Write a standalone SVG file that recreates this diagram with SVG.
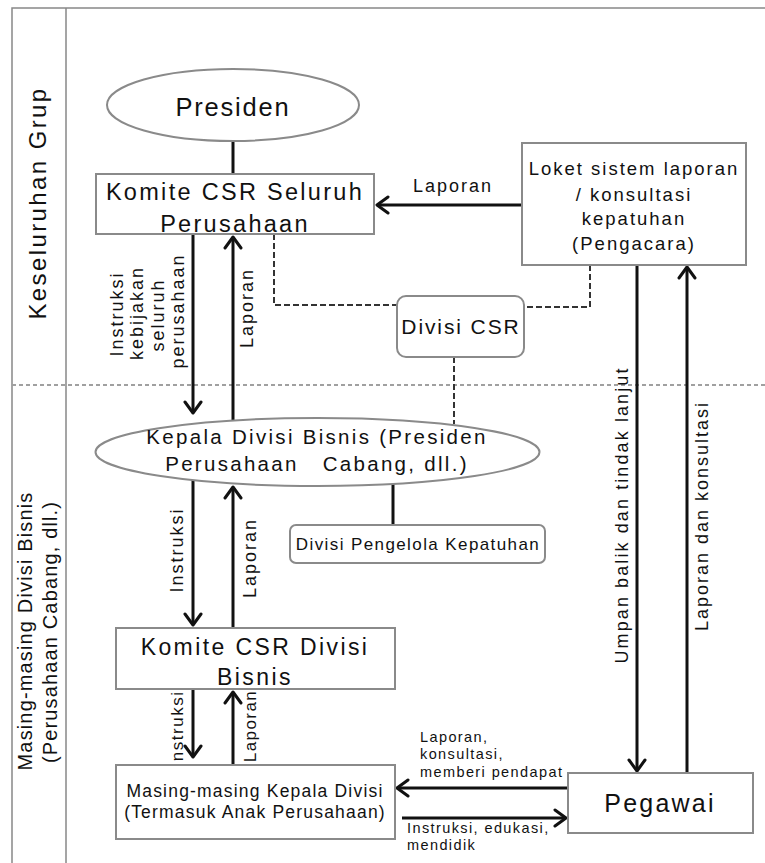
<svg xmlns="http://www.w3.org/2000/svg" width="765" height="863" viewBox="0 0 765 863">
<style>
.t{font-family:"Liberation Sans",Arial,sans-serif;fill:#111}
.box{fill:#fff;stroke:#8a8a8a;stroke-width:2}
.ln{stroke:#111;stroke-width:3;fill:none}
.dash{stroke:#333;stroke-width:2;stroke-dasharray:6 3;fill:none}
.frame{stroke:#888;stroke-width:1.5;fill:none}
.sep{stroke:#a0a0a0;stroke-width:2;stroke-dasharray:4 3;fill:none}
</style>
<defs>
<marker id="ah" viewBox="-14 -10 16 20" refX="0" refY="0" markerWidth="16" markerHeight="20" markerUnits="userSpaceOnUse" orient="auto">
<path d="M-11,-8 L0,0 L-11,8" fill="none" stroke="#111" stroke-width="3" stroke-linejoin="round" stroke-linecap="round"/>
</marker>
</defs>
<rect width="765" height="863" fill="#fff"/>
<g id="frame">
<path class="frame" d="M12,863 V8 H765 M66,8 V863"/>
<path class="sep" d="M12,385 H765"/>
<text class="t" font-size="24" letter-spacing="2.4" text-anchor="middle" transform="translate(46,203) rotate(-90)">Keseluruhan Grup</text>
<text class="t" font-size="20" letter-spacing="1.15" text-anchor="middle" transform="translate(32,631) rotate(-90)">Masing-masing Divisi Bisnis</text>
<text class="t" font-size="20" letter-spacing="1.15" text-anchor="middle" transform="translate(57,632) rotate(-90)">(Perusahaan Cabang, dll.)</text>
</g>
<g id="connectors">
<path class="ln" d="M233,140 V174"/>
<path class="ln" d="M522,205 H377" marker-end="url(#ah)"/>
<path class="dash" d="M274,234 V305 H397"/>
<path class="dash" d="M590,265 V307 H524"/>
<path class="dash" d="M454,357 V424"/>
<path class="ln" d="M193,234 V413" marker-end="url(#ah)"/>
<path class="ln" d="M233,421 V237" marker-end="url(#ah)"/>
<path class="ln" d="M393,484 V525"/>
<path class="ln" d="M193,480 V625" marker-end="url(#ah)"/>
<path class="ln" d="M233,628 V487" marker-end="url(#ah)"/>
<path class="ln" d="M193,689 V757" marker-end="url(#ah)"/>
<path class="ln" d="M233,765 V692" marker-end="url(#ah)"/>
<path class="ln" d="M637,265 V771" marker-end="url(#ah)"/>
<path class="ln" d="M687,773 V267" marker-end="url(#ah)"/>
<path class="ln" d="M568,788 H397" marker-end="url(#ah)"/>
<path class="ln" d="M402,818 H566" marker-end="url(#ah)"/>
<text class="t" font-size="18" letter-spacing="2" text-anchor="middle" x="453" y="192">Laporan</text>
<text class="t" font-size="18" letter-spacing="2" text-anchor="middle" transform="translate(123,314) rotate(-90)">Instruksi</text>
<text class="t" font-size="18" letter-spacing="2" text-anchor="middle" transform="translate(143,313) rotate(-90)">kebijakan</text>
<text class="t" font-size="18" letter-spacing="2" text-anchor="middle" transform="translate(164,315) rotate(-90)">seluruh</text>
<text class="t" font-size="18" letter-spacing="2" text-anchor="middle" transform="translate(184,311) rotate(-90)">perusahaan</text>
<text class="t" font-size="18" letter-spacing="2" text-anchor="middle" transform="translate(253,308) rotate(-90)">Laporan</text>
<text class="t" font-size="18" letter-spacing="2" text-anchor="middle" transform="translate(183,550) rotate(-90)">Instruksi</text>
<text class="t" font-size="18" letter-spacing="2" text-anchor="middle" transform="translate(256,558) rotate(-90)">Laporan</text>
<text class="t" font-size="17" letter-spacing="1.5" text-anchor="middle" transform="translate(183,729) rotate(-90)">Instruksi</text>
<text class="t" font-size="17" letter-spacing="1.45" text-anchor="middle" transform="translate(256,726) rotate(-90)">Laporan</text>
<text class="t" font-size="18" letter-spacing="2.1" text-anchor="middle" transform="translate(628,515) rotate(-90)">Umpan balik dan tindak lanjut</text>
<text class="t" font-size="18" letter-spacing="2" text-anchor="middle" transform="translate(708,516) rotate(-90)">Laporan dan konsultasi</text>
<text class="t" font-size="14.5" letter-spacing="1.4" x="420" y="742">Laporan,</text>
<text class="t" font-size="14.5" letter-spacing="1.4" x="420" y="759">konsultasi,</text>
<text class="t" font-size="14.5" letter-spacing="1.4" x="420" y="777">memberi pendapat</text>
<text class="t" font-size="14.5" letter-spacing="1.4" x="407" y="833">Instruksi, edukasi,</text>
<text class="t" font-size="14.5" letter-spacing="1.4" x="407" y="850">mendidik</text>
</g>
<g id="presiden">
<ellipse class="box" cx="233" cy="105" rx="126" ry="36"/>
<text class="t" font-size="25.5" letter-spacing="1.8" text-anchor="middle" x="233" y="116">Presiden</text>
</g>
<g id="komite-seluruh">
<rect class="box" x="96" y="174" width="278" height="60"/>
<text class="t" font-size="23.5" letter-spacing="2.3" text-anchor="middle" x="235" y="200">Komite CSR Seluruh</text>
<text class="t" font-size="23.5" letter-spacing="2.3" text-anchor="middle" x="235" y="232">Perusahaan</text>
</g>
<g id="loket">
<rect class="box" x="522" y="143" width="224" height="122"/>
<text class="t" font-size="18.5" letter-spacing="2" text-anchor="middle" x="634" y="175">Loket sistem laporan</text>
<text class="t" font-size="18.5" letter-spacing="2" text-anchor="middle" x="634" y="201">/ konsultasi</text>
<text class="t" font-size="18.5" letter-spacing="2" text-anchor="middle" x="634" y="225">kepatuhan</text>
<text class="t" font-size="18.5" letter-spacing="2" text-anchor="middle" x="634" y="250">(Pengacara)</text>
</g>
<g id="divisi-csr">
<rect class="box" x="397" y="296" width="127" height="61" rx="9"/>
<text class="t" font-size="21" letter-spacing="1.9" text-anchor="middle" x="461" y="334">Divisi CSR</text>
</g>
<g id="kepala-divisi-bisnis">
<ellipse class="box" cx="317.5" cy="452" rx="222" ry="34"/>
<text class="t" font-size="20.5" letter-spacing="2.3" text-anchor="middle" x="317" y="444">Kepala Divisi Bisnis (Presiden</text>
<text class="t" font-size="20.5" letter-spacing="2.3" text-anchor="middle" x="317" y="471" xml:space="preserve">Perusahaan   Cabang, dll.)</text>
</g>
<g id="divisi-pengelola">
<rect class="box" x="290" y="525" width="255" height="38" rx="6"/>
<text class="t" font-size="17" letter-spacing="1.4" text-anchor="middle" x="418" y="550">Divisi Pengelola Kepatuhan</text>
</g>
<g id="komite-divisi">
<rect class="box" x="116" y="628" width="279" height="61"/>
<text class="t" font-size="23" letter-spacing="2.4" text-anchor="middle" x="255" y="655">Komite CSR Divisi</text>
<text class="t" font-size="23" letter-spacing="2.4" text-anchor="middle" x="255" y="685">Bisnis</text>
</g>
<g id="kepala-divisi">
<rect class="box" x="116" y="765" width="279" height="74"/>
<text class="t" font-size="17.5" letter-spacing="1.2" text-anchor="middle" x="255" y="797">Masing-masing Kepala Divisi</text>
<text class="t" font-size="17.5" letter-spacing="1.2" text-anchor="middle" x="255" y="818">(Termasuk Anak Perusahaan)</text>
</g>
<g id="pegawai">
<rect class="box" x="568" y="773" width="185" height="60"/>
<text class="t" font-size="25" letter-spacing="2.2" text-anchor="middle" x="660" y="812">Pegawai</text>
</g>
</svg>
